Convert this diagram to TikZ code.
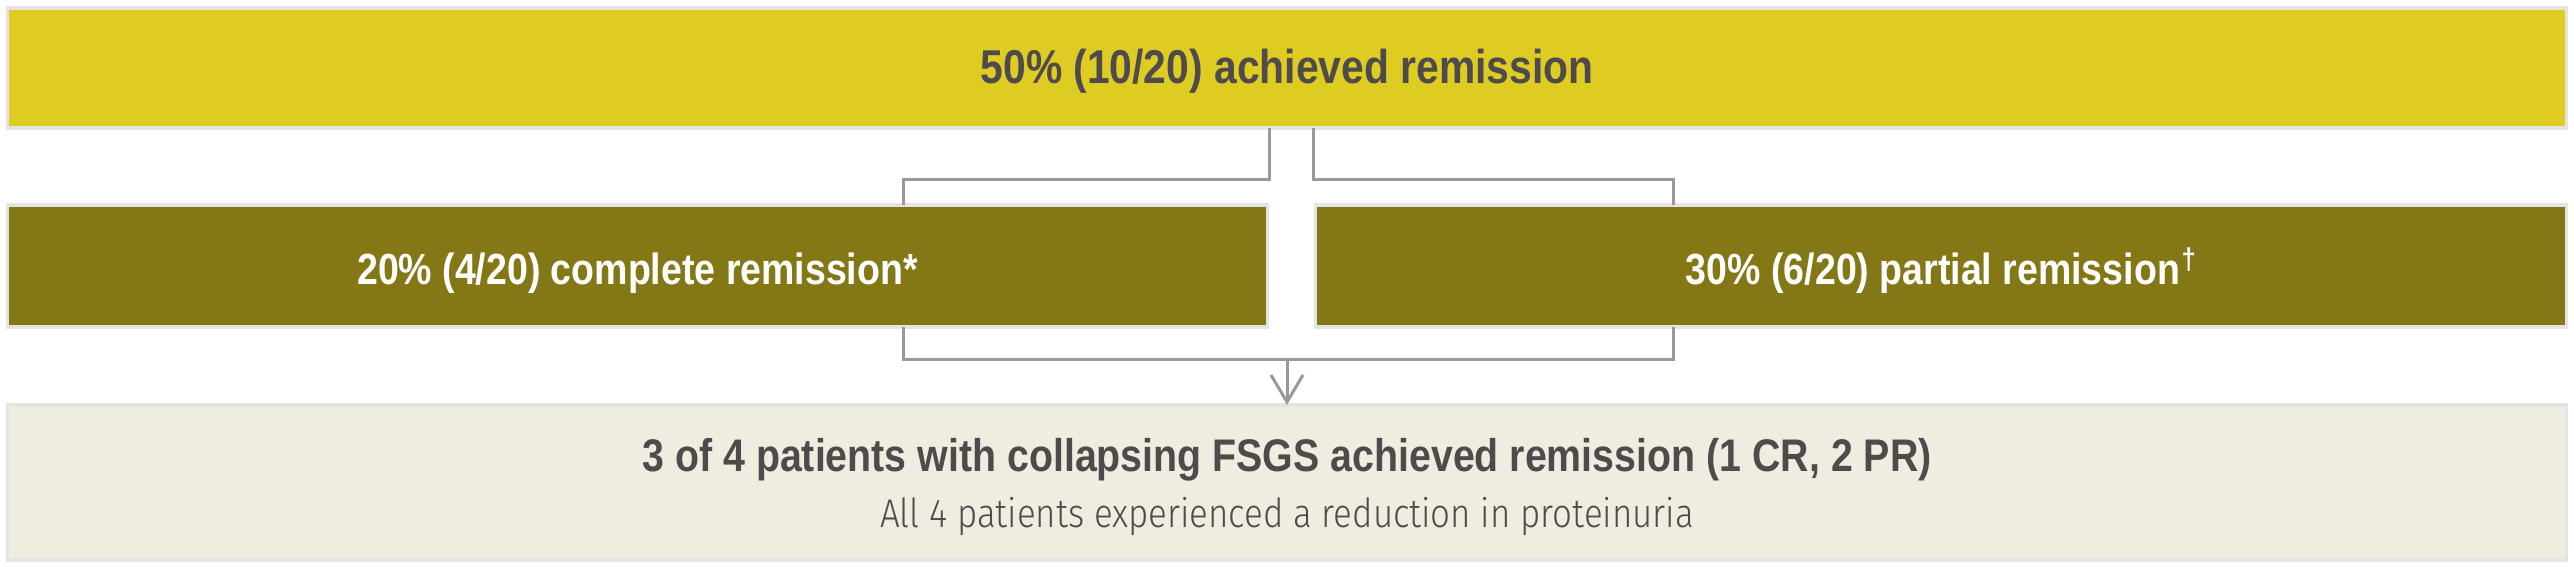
\documentclass[tikz,border=0pt]{standalone}
\usepackage{fontspec}
\setmainfont{Liberation Sans}[FakeStretch=0.86]
\newfontfamily\lightfont{Fira Sans Light}[FakeStretch=0.87]
\usetikzlibrary{arrows.meta,calc}
\definecolor{topc}{RGB}{222,204,35}
\definecolor{midc}{RGB}{132,119,21}
\definecolor{botc}{RGB}{239,237,223}
\definecolor{edgec}{RGB}{228,228,226}
\definecolor{txtc}{RGB}{79,74,76}
\definecolor{linec}{RGB}{153,153,153}
\newcommand{\mydag}{\kern0.5pt{\fontsize{8.5}{9}\selectfont\raisebox{4.4pt}{\textdagger}}}
\begin{document}
\begin{tikzpicture}[x=0.01cm,y=-0.01cm,
  box/.style={rectangle,inner sep=0pt,outer sep=0pt,draw=edgec,line width=0.9pt,anchor=center},
  midbox/.style={box,fill=midc,minimum height=1.22cm,text=white,text height=10.8pt,text depth=0pt,
    font=\bfseries\fontsize{12.4}{14}\selectfont},
  conn/.style={draw=linec,line width=0.85pt},
  tip/.style={-{Straight Barb[length=0.27cm,width=0.32cm,line width=0.85pt]}}]
\useasboundingbox (0,0) rectangle (2574,567);
\node[box,fill=topc,minimum width=25.58cm,minimum height=1.2cm,text=txtc,text height=9.1pt,text depth=0pt,
  font=\bfseries\fontsize{13.5}{16}\selectfont] (top) at (1287,68) {50\% (10/20) achieved remission};
\node[midbox,minimum width=12.59cm] (left) at (637.5,266) {20\% (4/20) complete remission*};
\node[midbox,minimum width=12.5cm] (right) at (1941,266) {30\% (6/20) partial remission\mydag};
\node[box,fill=botc,minimum width=25.58cm,minimum height=1.55cm,text=txtc,align=center,
  font=\fontsize{13}{15.9}\selectfont] (bottom) at (1287,482.5)
  {\rule{0pt}{11.9pt}\bfseries 3 of 4 patients with collapsing FSGS achieved remission (1 CR, 2 PR)\\
   {\lightfont\fontsize{11.4}{15.9}\selectfont All 4 patients experienced a reduction in proteinuria}};
\path (top.south) ++(-18,0) coordinate (tl) ++(44,0) coordinate (tr);
\path (left.north) ++(265.5,0) coordinate (lt);
\path (right.north) ++(-268,0) coordinate (rt);
\path (left.south) ++(265.5,0) coordinate (lb);
\path (right.south) ++(-268,0) coordinate (rb);
\draw[conn] (tl) -- ++(0,51) -| (lt);
\draw[conn] (tr) -- ++(0,51) -| (rt);
\draw[conn] (lb) -- ++(0,32) coordinate (jb) -| (rb);
\draw[conn,tip] (jb -| bottom.north) -- (bottom.north);
\end{tikzpicture}
\end{document}
